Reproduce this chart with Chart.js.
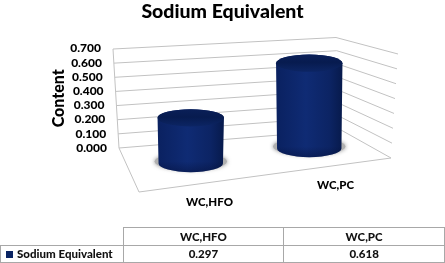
<!DOCTYPE html>
<html>
<head>
<meta charset="utf-8">
<title>Sodium Equivalent</title>
<script src="https://cdn.jsdelivr.net/npm/chart.js@4"></script>
<style>
    html, body { margin: 0; padding: 0; background: #fff; }
    #wrap { position: relative; width: 445px; height: 263px; overflow: hidden; }
    #chart { display: block; }
    table { position: absolute; left: 0; top: 227px; width: 445px; height: 36px; border-collapse: collapse; table-layout: fixed;
            font: 900 11.5px Lato, sans-serif; color: #111; text-align: center; }
    td { border: 1px solid #a8a8a8; padding: 0; white-space: nowrap; }
    td.blank { border-top: none; border-left: none; width: 122px; }
    td.name { text-align: left; }
    .key { display: inline-block; width: 7px; height: 7px; margin: 0 4px 0 5px; background: #0a2463; }
</style>
</head>
<body>
<div id="wrap">
    <canvas id="chart" width="445" height="263"></canvas>
    <table id="dataTable"></table>
</div>
<script>
const categories = ["WC,HFO", "WC,PC"];
const seriesName = "Sodium Equivalent";
const seriesValues = [0.297, 0.618];
const axisMax = 0.7;
const axisStep = 0.1;
const titleText = "Sodium Equivalent";
const yAxisTitle = "Content";

// corners of the fake 3D box, in canvas pixels
const box = {
    backTL: [113, 49], backTR: [336, 37.5],
    backBL: [119, 148], backBR: [341, 130],
    sideT: [398, 54], sideB: [391, 158],
    frontL: [139, 192], frontR: [391, 158]
};

function lerp(a, b, t) {
    return [a[0] + (b[0] - a[0]) * t, a[1] + (b[1] - a[1]) * t];
}

function line(ctx, a, b) {
    ctx.beginPath();
    ctx.moveTo(a[0], a[1]);
    ctx.lineTo(b[0], b[1]);
    ctx.stroke();
}

// 0 at the bottom of the axis, 1 at the top
function levelOf(yScale, pixel) {
    return (yScale.bottom - pixel) / (yScale.bottom - yScale.top);
}

const slantPlugin = {
    id: "slant",
    // move the library's own tick labels so they follow the box
    afterUpdate(chart) {
        const x = chart.scales.x;
        const y = chart.scales.y;
        y.getLabelItems().forEach((item) => {
            const pixel = item.options.translation[1];
            const lv = levelOf(y, pixel);
            item.options.translation[0] = 107 - 6 * lv;
            item.options.textAlign = "right";
        });
        x.getLabelItems().forEach((item) => {
            const u = (item.options.translation[0] - x.left) / (x.right - x.left);
            const p = lerp(box.frontL, box.frontR, u);
            item.options.translation = [p[0] + 7.5, p[1] + 18.5];
            item.options.textAlign = "center";
            item.options.textBaseline = "middle";
            item.textOffset = 0;
        });
    },
    beforeDatasetsDraw(chart) {
        const ctx = chart.ctx;
        const y = chart.scales.y;
        ctx.save();
        ctx.strokeStyle = "#c2c2c2";
        ctx.lineWidth = 1;
        y.ticks.forEach((tick) => {
            const lv = levelOf(y, y.getPixelForValue(tick.value));
            const left = lerp(box.backBL, box.backTL, lv);
            const mid = lerp(box.backBR, box.backTR, lv);
            const right = lerp(box.sideB, box.sideT, lv);
            line(ctx, left, mid);
            line(ctx, mid, right);
        });
        line(ctx, box.backBL, box.backTL);
        line(ctx, box.backBL, box.frontL);
        line(ctx, box.frontL, box.frontR);
        ctx.restore();
    },
    afterDatasetsDraw(chart) {
        const ctx = chart.ctx;
        const x = chart.scales.x;
        chart.getDatasetMeta(0).data.forEach((bar) => {
            const u = (bar.x - x.left) / (x.right - x.left);
            const base = lerp(lerp(box.backBL, box.frontL, 0.5), lerp(box.backBR, box.frontR, 0.5), u);
            const h = (bar.base - bar.y) * (1.135 - 0.22 * u);
            const rx = bar.width / 2;
            const ry = rx * 0.26;
            const cx = base[0] + 2.5;
            const by = base[1] - (u - 0.25) * 4;
            const ty = by - h;

            // soft shadow on the floor
            ctx.save();
            ctx.shadowColor = "rgba(110,110,110,0.8)";
            ctx.shadowBlur = 4;
            ctx.fillStyle = "#b0b0b0";
            ctx.beginPath();
            ctx.ellipse(cx, by - 2, rx + 3, ry, 0, 0, Math.PI * 2);
            ctx.fill();
            ctx.restore();

            // body, a little narrower at the floor
            const body = ctx.createLinearGradient(cx - rx, 0, cx + rx, 0);
            body.addColorStop(0, "#0a2160");
            body.addColorStop(0.45, "#0f2b74");
            body.addColorStop(0.8, "#0c2464");
            body.addColorStop(1, "#071a4c");
            ctx.beginPath();
            ctx.ellipse(cx, ty, rx, ry, 0, Math.PI, Math.PI * 2);
            ctx.lineTo(cx + rx - 1, by);
            ctx.ellipse(cx, by, rx - 1, ry, 0, 0, Math.PI);
            ctx.closePath();
            ctx.fillStyle = body;
            ctx.fill();

            // darker towards the floor
            const foot = ctx.createLinearGradient(0, by - 2, 0, by + ry);
            foot.addColorStop(0, "rgba(3,12,50,0)");
            foot.addColorStop(1, "rgba(3,12,50,0.4)");
            ctx.fillStyle = foot;
            ctx.fill();

            // top, fades into the body at its front edge
            const top = ctx.createLinearGradient(0, ty - ry, 0, ty + ry);
            top.addColorStop(0, "#0a1f58");
            top.addColorStop(0.45, "#071b4f");
            top.addColorStop(1, "#0c2564");
            ctx.fillStyle = top;
            ctx.beginPath();
            ctx.ellipse(cx, ty, rx, ry, 0, 0, Math.PI * 2);
            ctx.fill();
        });
    }
};

// data table under the chart
function buildTable() {
    const head = categories.map((c) => "<td>" + c + "</td>").join("");
    const vals = seriesValues.map((v) => "<td>" + v.toFixed(3) + "</td>").join("");
    document.getElementById("dataTable").innerHTML =
        '<tr><td class="blank"></td>' + head + "</tr>" +
        '<tr><td class="name"><span class="key"></span>' + seriesName + "</td>" + vals + "</tr>";
}

document.addEventListener("DOMContentLoaded", function () {
    buildTable();
    const ctx = document.getElementById("chart").getContext("2d");
    new Chart(ctx, {
        type: "bar",
        data: {
            labels: categories,
            datasets: [{
                label: seriesName,
                data: seriesValues,
                backgroundColor: "transparent",
                barPercentage: 0.4,
                categoryPercentage: 1
            }]
        },
        options: {
            responsive: false,
            animation: false,
            plugins: {
                legend: { display: false },
                tooltip: { enabled: false },
                title: {
                    display: true,
                    text: titleText,
                    color: "#000",
                    font: { family: "Lato", weight: "900", size: 19.5 },
                    padding: { top: 0, bottom: 25 }
                }
            },
            scales: {
                x: {
                    grid: { display: false },
                    border: { display: false },
                    ticks: { color: "#000", font: { family: "Lato", weight: "900", size: 11.5 } },
                    afterFit(scale) { scale.height = 115; }
                },
                y: {
                    min: 0,
                    max: axisMax,
                    grid: { display: false },
                    border: { display: false },
                    title: {
                        display: true,
                        text: yAxisTitle,
                        color: "#000",
                        font: { family: "Lato", weight: "900", size: 16 },
                        padding: { top: 49, bottom: 0 }
                    },
                    ticks: {
                        stepSize: axisStep,
                        autoSkip: false,
                        color: "#000",
                        font: { family: "Lato", weight: "900", size: 12 },
                        callback: (v) => Number(v).toFixed(3)
                    },
                    afterFit(scale) { scale.width = 113; }
                }
            }
        },
        plugins: [slantPlugin]
    });
});
</script>
</body>
</html>
